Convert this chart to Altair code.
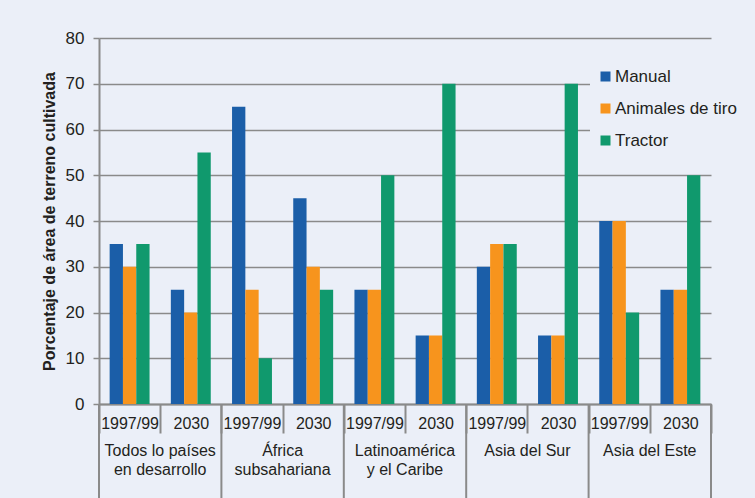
import altair as alt
import pandas as pd

regions = ["Todos lo países\nen desarrollo", "África\nsubsahariana", "Latinoamérica\ny el Caribe", "Asia del Sur", "Asia del Este"]
periods = ["1997/99", "2030"]
types = ["Manual", "Animales de tiro", "Tractor"]
# values per (region, period) in order
manual = [35, 25, 65, 45, 25, 15, 30, 15, 40, 25]
animales = [30, 20, 25, 30, 25, 15, 35, 15, 40, 25]
tractor = [35, 55, 10, 25, 50, 70, 35, 70, 20, 50]
colors = ["#1b5ea8", "#f7941d", "#10996d"]

BG = "#ebeff8"
GRAY = "#8a8a8a"
TXT = "#231f20"
FONT = "Liberation Sans"

keys = [f"{i}|{p}" for i in range(len(regions)) for p in periods]
rows = []
for k_i, k in enumerate(keys):
    for t, vals in zip(types, [manual, animales, tractor]):
        rows.append({"key": k, "tipo": t, "valor": vals[k_i]})
df = pd.DataFrame(rows)

reg_df = pd.DataFrame({"key": [f"{i}|{periods[0]}" for i in range(len(regions))], "region": regions})
end_df = pd.DataFrame({"key": [keys[-1]]})

xscale = alt.Scale(domain=keys, paddingInner=0, paddingOuter=0)

bars = alt.Chart(df).mark_bar().encode(
    x=alt.X("key:N", scale=xscale, title=None,
            axis=alt.Axis(labelExpr="split(datum.label, '|')[1]", labelAngle=0,
                          labelFontSize=16, labelColor=TXT, labelFont=FONT, labelPadding=-5,
                          tickBand="extent", tickSize=29, tickColor=GRAY, tickWidth=2,
                          domainColor=GRAY, domainWidth=2, grid=False, labelBaseline="alphabetic")),
    xOffset=alt.XOffset("tipo:N", sort=types, scale=alt.Scale(paddingInner=0, paddingOuter=0.8)),
    y=alt.Y("valor:Q", scale=alt.Scale(domain=[0, 80], nice=False),
            title="Porcentaje de área de terreno cultivada",
            axis=alt.Axis(values=list(range(0, 81, 10)), labelFontSize=17, labelColor=TXT, labelFont=FONT,
                          labelPadding=9, tickSize=6, tickColor=GRAY, tickWidth=1.5,
                          domainColor=GRAY, domainWidth=2, gridColor=GRAY, gridWidth=1.5,
                          titleFont=FONT, titleFontSize=16, titleColor=TXT, titleFontWeight="bold",
                          titlePadding=8)),
    color=alt.Color("tipo:N", sort=types, scale=alt.Scale(domain=types, range=colors), title=None,
                    legend=alt.Legend(orient="none", legendX=491, legendY=23, symbolType="square",
                                      symbolSize=100, labelFontSize=17, labelFont=FONT, labelColor=TXT,
                                      rowPadding=14, fillColor=BG, padding=7, labelOffset=1,
                                      symbolStrokeWidth=0)),
)

reg_rules = alt.Chart(reg_df).mark_rule(color=GRAY, strokeWidth=2).encode(
    x=alt.X("key:N", scale=xscale, bandPosition=0),
    y=alt.value(366), y2=alt.value(460),
)
end_rule = alt.Chart(end_df).mark_rule(color=GRAY, strokeWidth=2).encode(
    x=alt.X("key:N", scale=xscale, bandPosition=1),
    y=alt.value(366), y2=alt.value(460),
)
reg_text = alt.Chart(reg_df).mark_text(fontSize=16, font=FONT, color=TXT, baseline="top",
                                       lineBreak="\n", lineHeight=19, align="center").encode(
    x=alt.X("key:N", scale=xscale, bandPosition=1),
    y=alt.value(405),
    text="region:N",
)

chart = alt.layer(bars, reg_rules, end_rule, reg_text).properties(
    width=612, height=366,
    autosize=alt.AutoSizeParams(type="none"),
    padding={"left": 99, "top": 38, "right": 44, "bottom": 94},
    background=BG,
).configure_view(stroke=None)

chart.save("out.html", embed_options={"renderer": "svg", "actions": False})
